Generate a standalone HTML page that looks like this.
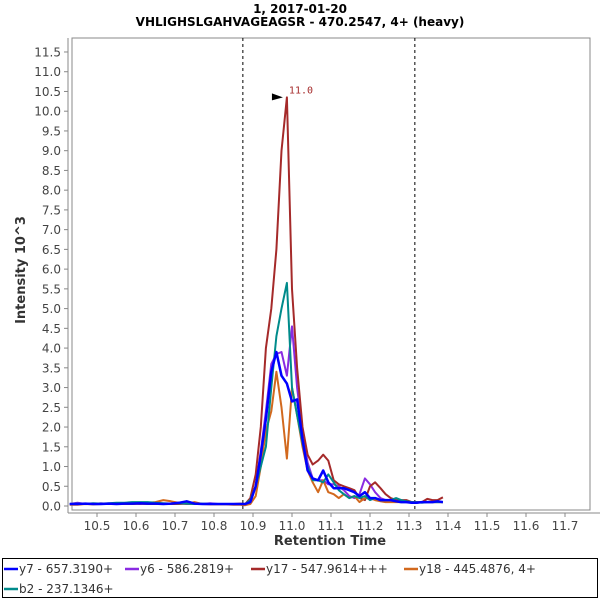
<!DOCTYPE html>
<html><head><meta charset="utf-8"><style>
body{margin:0;background:#fff;font-family:"Liberation Sans","DejaVu Sans",sans-serif}
#wrap{position:relative;width:600px;height:600px}
</style></head><body>
<div id="wrap">
<svg id="c" width="600" height="600" xmlns="http://www.w3.org/2000/svg">
<text x="300" y="13" text-anchor="middle" font-weight="bold" font-size="12" font-family="DejaVu Sans, sans-serif">1, 2017-01-20</text>
<text x="300" y="26" text-anchor="middle" font-weight="bold" font-size="12" font-family="DejaVu Sans, sans-serif">VHLIGHSLGAHVAGEAGSR - 470.2547, 4+ (heavy)</text>
<rect x="72" y="38" width="518" height="472" fill="#fff" stroke="#888"/>
<line x1="68" y1="38" x2="68" y2="513" stroke="#888"/>
<line x1="68" y1="513" x2="600" y2="513" stroke="#888"/>
<g id="yt"></g><g id="xt"></g><g id="marks"></g><g id="series"></g>
<text transform="translate(25,270) rotate(-90)" text-anchor="middle" font-weight="bold" font-size="13" fill="#333" font-family="DejaVu Sans, sans-serif">Intensity 10^3</text>
<text x="330" y="545" text-anchor="middle" font-weight="bold" font-size="13" fill="#333" font-family="DejaVu Sans, sans-serif">Retention Time</text>
<rect x="2.5" y="558.5" width="595" height="39" fill="#fff" stroke="#000"/>
<g id="leg" font-size="12" fill="#333" font-family="DejaVu Sans, sans-serif"></g>
</svg></div>
<script>
const yTicks=[0,0.5,1,1.5,2,2.5,3,3.5,4,4.5,5,5.5,6,6.5,7,7.5,8,8.5,9,9.5,10,10.5,11,11.5];
const xTicks=[10.5,10.6,10.7,10.8,10.9,11.0,11.1,11.2,11.3,11.4,11.5,11.6,11.7];
const markers=[10.874,11.315];
const seriesNames=["y7 - 657.3190+","y6 - 586.2819+","y17 - 547.9614+++","y18 - 445.4876, 4+","b2 - 237.1346+"];
const seriesColors=["#0000ff","#8a2be2","#a52a2a","#d2691e","#008b8b"];
const times=[10.43,10.45,10.47,10.49,10.51,10.53,10.55,10.57,10.59,10.61,10.63,10.65,10.67,10.69,10.71,10.73,10.75,10.77,10.79,10.81,10.83,10.85,10.867,
10.88,10.893,10.907,10.92,10.933,10.947,10.96,10.973,10.987,11.0,11.013,11.027,11.04,11.053,11.067,11.08,11.093,11.107,11.12,11.133,11.147,11.16,11.173,11.187,11.2,11.213,11.227,11.24,11.253,11.267,11.28,11.293,11.307,11.32,11.333,11.347,11.36,11.373,11.387];
const y7=[0.05,0.05,0.06,0.05,0.05,0.06,0.05,0.06,0.06,0.07,0.06,0.06,0.05,0.06,0.08,0.12,0.06,0.05,0.05,0.05,0.05,0.05,0.05,
0.05,0.1,0.5,1.3,2.2,3.4,3.9,3.3,3.1,2.65,2.7,1.7,0.9,0.7,0.65,0.9,0.6,0.45,0.45,0.45,0.4,0.35,0.25,0.35,0.2,0.2,0.15,0.15,0.15,0.12,0.1,0.1,0.08,0.08,0.1,0.1,0.1,0.12,0.1];
const y6=[0.05,0.08,0.05,0.05,0.07,0.05,0.06,0.05,0.06,0.05,0.06,0.05,0.06,0.05,0.07,0.05,0.06,0.05,0.07,0.05,0.05,0.05,0.05,
0.05,0.15,0.5,1.4,2.4,3.6,3.85,3.9,3.3,4.55,3.0,1.9,1.1,0.7,0.65,0.65,0.55,0.55,0.5,0.4,0.25,0.2,0.3,0.7,0.55,0.35,0.2,0.15,0.15,0.12,0.12,0.1,0.1,0.1,0.1,0.1,0.1,0.1,0.1];
const y17=[0.05,0.05,0.05,0.06,0.05,0.05,0.06,0.05,0.05,0.06,0.05,0.05,0.06,0.05,0.05,0.06,0.05,0.05,0.05,0.05,0.05,0.05,0.06,
0.05,0.2,0.8,2.0,4.0,5.0,6.5,9.0,10.35,5.5,3.5,2.0,1.3,1.05,1.15,1.3,1.15,0.65,0.55,0.5,0.45,0.4,0.2,0.15,0.5,0.6,0.45,0.3,0.2,0.15,0.15,0.15,0.1,0.1,0.1,0.18,0.15,0.15,0.22];
const y18=[0.03,0.03,0.05,0.04,0.05,0.05,0.05,0.06,0.06,0.08,0.08,0.1,0.15,0.12,0.08,0.06,0.1,0.05,0.04,0.04,0.04,0.03,0.03,
0.02,0.05,0.25,1.0,1.9,2.4,3.4,2.5,1.2,3.0,2.3,1.5,0.9,0.6,0.35,0.65,0.35,0.3,0.2,0.3,0.2,0.25,0.1,0.2,0.2,0.15,0.12,0.1,0.1,0.1,0.1,0.1,0.08,0.08,0.1,0.1,0.1,0.1,0.1];
const b2=[0.05,0.06,0.05,0.07,0.06,0.07,0.08,0.08,0.1,0.1,0.1,0.08,0.07,0.06,0.07,0.06,0.05,0.06,0.05,0.05,0.05,0.05,0.05,
0.05,0.15,0.5,1.0,1.5,3.0,4.3,5.0,5.65,3.0,2.3,1.6,1.0,0.65,0.65,0.6,0.8,0.6,0.4,0.3,0.2,0.25,0.2,0.25,0.15,0.2,0.15,0.15,0.15,0.2,0.15,0.12,0.1,0.1,0.08,0.1,0.1,0.1,0.1];
const seriesValues=[y7,y6,y17,y18,b2];
const peakLabel="11.0";

const NS="http://www.w3.org/2000/svg";
const X=t=>253+(t-10.9)*390;
const Y=v=>506-v*39.48;
function mk(tag,attrs,parent){const e=document.createElementNS(NS,tag);for(const k in attrs)e.setAttribute(k,attrs[k]);parent.appendChild(e);return e;}
const yt=document.getElementById('yt');
yTicks.forEach(v=>{
 const l=mk('line',{x1:64,x2:68,y1:Y(v),y2:Y(v),stroke:'#888'},yt);
 
 
 const t=mk('text',{x:61,y:Y(v)+4.5,'text-anchor':'end','font-size':12,fill:'#444','font-family':'DejaVu Sans, sans-serif'},yt);
 t.textContent=v.toFixed(1);
 
 
});
const xt=document.getElementById('xt');
xTicks.forEach(v=>{
 const l=mk('line',{x1:X(v),x2:X(v),y1:513,y2:517,stroke:'#888'},xt);
 
 
 const t=mk('text',{x:X(v),y:530,'text-anchor':'middle','font-size':12,fill:'#444','font-family':'DejaVu Sans, sans-serif'},xt);
 t.textContent=v.toFixed(1);
 
 
});
const mg=document.getElementById('marks');
markers.forEach(v=>{
 const l=mk('line',{x1:X(v),x2:X(v),y1:38,y2:510,stroke:'#000','stroke-dasharray':'3,3'},mg);
 
 
});
const sg=document.getElementById('series');
seriesValues.forEach((vals,i)=>{
 const pts=vals.map((v,j)=>X(times[j]).toFixed(1)+','+Y(v).toFixed(1)).join(' ');
 const p=mk('polyline',{points:pts,fill:'none',stroke:seriesColors[i],'stroke-width':i==0?2.5:2,'stroke-linejoin':'round'},sg);
 
 
});
sg.appendChild(sg.children[0]);
let pi=0;y17.forEach((v,j)=>{if(v>y17[pi])pi=j;});
const px=X(times[pi]),py=Y(y17[pi]);
const tri=mk('polygon',{points:`${px-15},${py-4} ${px-4},${py} ${px-15},${py+3}`,fill:'#000'},sg);


const pt=mk('text',{x:px+2,y:py-4,'font-size':10,fill:'#a52a2a','font-family':'DejaVu Sans Mono, monospace'},sg);
pt.textContent=peakLabel;


const lg=document.getElementById('leg');
const lpos=[[4,573],[125,573],[251,573],[404,573],[4,593]];
seriesNames.forEach((n,i)=>{
 const [x,y]=lpos[i];
 const g=mk('g',{},lg);
 
 
 mk('line',{x1:x,x2:x+14,y1:y-4,y2:y-4,stroke:seriesColors[i],'stroke-width':2.5},g);
 const t=mk('text',{x:x+15,y:y},g);t.textContent=n;
});
</script>
</body></html>
